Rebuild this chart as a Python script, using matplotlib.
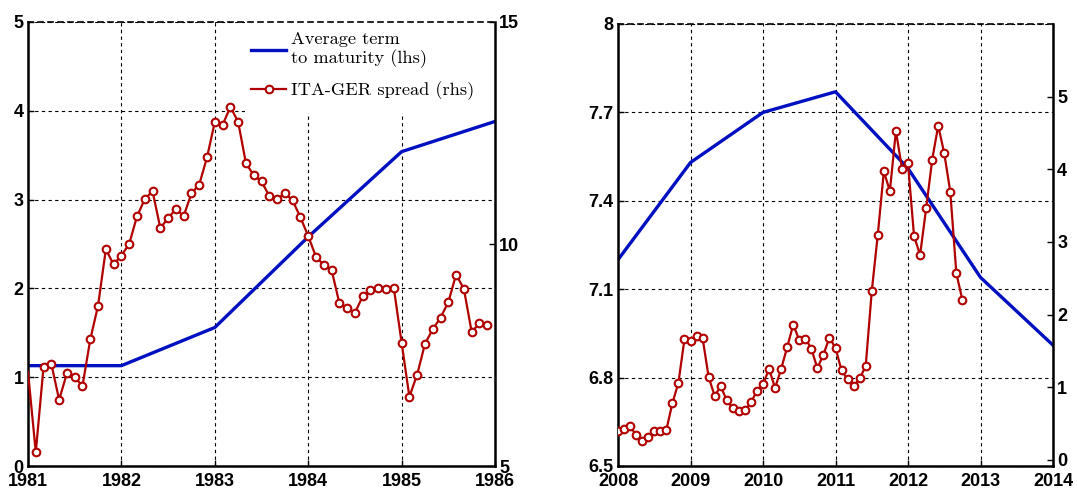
import numpy as np
import matplotlib
matplotlib.use("Agg")
import matplotlib.pyplot as plt
from matplotlib.patches import Rectangle

# ---------------- data ----------------
# Left panel (1981-1986)
years_left = [1981, 1982, 1983, 1984, 1985, 1986]
term_left = [1.13, 1.13, 1.56, 2.58, 3.54, 3.88]          # lhs
spread_left = [7.12, 5.31, 7.24, 7.30, 6.49, 7.09, 7.00, 6.80, 7.85, 8.61,
               9.88, 9.54, 9.74, 10.00, 10.62, 11.01, 11.19, 10.36, 10.58, 10.79,
               10.63, 11.14, 11.34, 11.95, 12.75, 12.68, 13.09, 12.75, 11.82, 11.55,
               11.41, 11.08, 11.01, 11.14, 10.98, 10.60, 10.18, 9.71, 9.53, 9.42,
               8.67, 8.56, 8.45, 8.82, 8.96, 9.02, 8.99, 9.01, 7.78, 6.56,
               7.06, 7.75, 8.08, 8.34, 8.69, 9.31, 8.99, 8.02, 8.21, 8.18]  # rhs, monthly from Jan 1981
start_left = 1981

# Right panel (2008-2014)
years_right = [2008, 2009, 2010, 2011, 2012, 2013, 2014]
term_right = [7.20, 7.53, 7.70, 7.77, 7.51, 7.14, 6.91]   # lhs
spread_right = [0.40, 0.42, 0.46, 0.34, 0.26, 0.31, 0.39, 0.39, 0.41, 0.78,
                1.06, 1.66, 1.63, 1.70, 1.68, 1.14, 0.88, 1.01, 0.82, 0.71,
                0.67, 0.68, 0.79, 0.95, 1.04, 1.25, 0.99, 1.25, 1.55, 1.86,
                1.65, 1.67, 1.53, 1.26, 1.45, 1.68, 1.54, 1.23, 1.11, 1.01,
                1.12, 1.29, 2.32, 3.10, 3.97, 3.70, 4.53, 4.01, 4.08, 3.08,
                2.82, 3.46, 4.13, 4.60, 4.22, 3.69, 2.57, 2.20]  # rhs, monthly from Jan 2008
start_right = 2008

# tick labels
xt_left = [1981, 1982, 1983, 1984, 1985, 1986]
yt_left_l = [0, 1, 2, 3, 4, 5]
yt_left_r = [5, 10, 15]
xt_right = [2008, 2009, 2010, 2011, 2012, 2013, 2014]
yt_right_l = [6.5, 6.8, 7.1, 7.4, 7.7, 8.0]
yt_right_r = [0, 1, 2, 3, 4, 5]

legend_labels = ["Average term\nto maturity (lhs)", "ITA-GER spread (rhs)"]

# ---------------- style ----------------
BLUE = "#0010C0"
RED = "#B00000"
TICKFONT = dict(family="Liberation Sans", weight="bold", size=13)
GRID = dict(color="black", linestyle=(0, (3, 3)), linewidth=0.8)

fig = plt.figure(figsize=(10.77, 4.9), dpi=100)
W, H = 1077.0, 490.0


def setup(ax, ax2, xlim, ylim, ylim2, xt, ytl, ytr, fmt):
    ax.set_xlim(*xlim)
    ax.set_ylim(*ylim)
    ax2.set_ylim(*ylim2)
    ax.set_xticks(xt)
    ax.set_xticklabels([str(v) for v in xt], fontdict=TICKFONT)
    ax.set_yticks(ytl)
    ax.set_yticklabels([fmt(v) for v in ytl], fontdict=TICKFONT)
    ax2.set_yticks(ytr)
    ax2.set_yticklabels([str(v) for v in ytr], fontdict=TICKFONT)
    ax.grid(True, **GRID)
    ax.tick_params(axis="both", direction="in", length=4, width=1, pad=3)
    ax.tick_params(axis="x", pad=5)
    ax2.tick_params(axis="y", direction="in", length=4, width=1, pad=3)
    for s in ("left", "bottom"):
        ax.spines[s].set_linewidth(1.8)
    ax.spines["right"].set_visible(False)
    ax.spines["top"].set_visible(False)
    for s in ("left", "bottom"):
        ax2.spines[s].set_visible(False)
    ax2.spines["right"].set_linewidth(1.8)
    ax2.spines["top"].set_linestyle((0, (3, 3)))
    ax2.spines["top"].set_linewidth(1.2)


# ---------- left panel ----------
ax1 = fig.add_axes([28 / W, 24 / H, 467 / W, 444 / H])
ax2 = ax1.twinx()
ax2.set_zorder(ax1.get_zorder() + 1)
ax2.patch.set_visible(False)

xs_left = start_left + np.arange(len(spread_left)) / 12.0
l1, = ax1.plot(years_left, term_left, color=BLUE, lw=2.4)
l2, = ax2.plot(xs_left, spread_left, color=RED, lw=1.6, marker="o", ms=5.5,
               mfc="white", mec=RED, mew=1.5, markevery=range(1, len(spread_left)))
setup(ax1, ax2, (1981, 1986), (0, 5), (5, 15), xt_left, yt_left_l, yt_left_r,
      lambda v: f"{v:g}")

ax2.add_patch(Rectangle((0.465, 0.795), 0.535, 0.205, transform=ax2.transAxes,
                        facecolor="white", edgecolor="none", zorder=1))
leg = ax2.legend([l1, l2], legend_labels, loc="upper left",
                 bbox_to_anchor=(0.466, 0.99), frameon=False,
                 prop=dict(family="cmr10", size=13.2), handlelength=1.9,
                 handletextpad=0.28, labelspacing=0.75, borderaxespad=0.0,
                 borderpad=0.3)
for t in leg.get_texts():
    t.set_linespacing(1.12)
leg.set_zorder(5)

# ---------- right panel ----------
ax3 = fig.add_axes([618 / W, 24 / H, 435 / W, 442 / H])
ax4 = ax3.twinx()
ax4.set_zorder(ax3.get_zorder() + 1)
ax4.patch.set_visible(False)

xs_right = start_right + np.arange(len(spread_right)) / 12.0
ax3.plot(years_right, term_right, color=BLUE, lw=2.4)
ax4.plot(xs_right, spread_right, color=RED, lw=1.6, marker="o", ms=5.5,
         mfc="white", mec=RED, mew=1.5)
setup(ax3, ax4, (2008, 2014), (6.5, 8.0), (-0.085, 6.0), xt_right, yt_right_l,
      yt_right_r, lambda v: f"{v:g}")

fig.savefig("out.png", dpi=100)
